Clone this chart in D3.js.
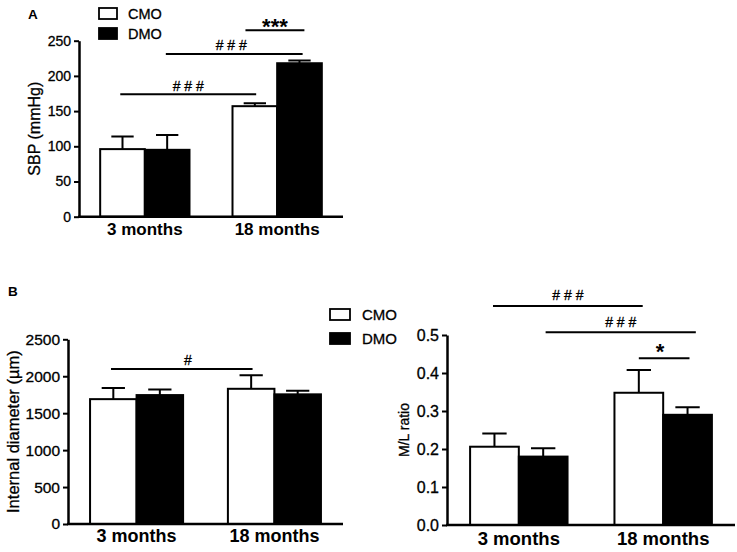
<!DOCTYPE html>
<html>
<head>
<meta charset="utf-8">
<script src="https://cdn.jsdelivr.net/npm/d3@7"></script>
<style>
  body { margin: 0; background: #fff; }
  svg { display: block; }
</style>
</head>
<body>
<div id="chart-area"></div>
<script>
const WIDTH = 737
const HEIGHT = 552
const FONT = '"Liberation Sans", Arial, Helvetica, sans-serif'

// data (mean, upper error)
const groups = ["3 months", "18 months"]
const series = ["CMO", "DMO"]

const sbpCMO = [96, 157]
const sbpCMOerr = [18, 4]
const sbpDMO = [95, 218]
const sbpDMOerr = [21, 4]

const diamCMO = [1690, 1830]
const diamCMOerr = [150, 183]
const diamDMO = [1745, 1755]
const diamDMOerr = [77, 49]

const mlCMO = [0.206, 0.348]
const mlCMOerr = [0.035, 0.060]
const mlDMO = [0.180, 0.290]
const mlDMOerr = [0.022, 0.020]

const svg = d3.select("#chart-area").append("svg")
  .attr("width", WIDTH)
  .attr("height", HEIGHT)
  .style("font-family", FONT)

// thin outline so the type looks as heavy as in the scanned figure
const heavy = sel => sel.attr("stroke", "#000").attr("stroke-width", 0.3)

function drawPanel(p) {
  const g = svg.append("g")

  const x0 = d3.scaleBand()
    .domain(groups)
    .range([p.x0, p.x1])
    .paddingInner(0.325)
    .paddingOuter(0.16)
  const x1 = d3.scaleBand()
    .domain(series)
    .range([0, x0.bandwidth()])
  const y = d3.scaleLinear()
    .domain([0, p.max])
    .range([p.yBottom, p.yTop])

  const rows = []
  groups.forEach((grp, i) => {
    series.forEach((s, j) => {
      rows.push({grp: grp, s: s, mean: p.means[j][i], err: p.errs[j][i]})
    })
  })
  const bw = x1.bandwidth()
  const cx = d => x0(d.grp) + x1(d.s) + bw / 2

  // error bars (upper only)
  g.selectAll(".err").data(rows).enter().append("path")
    .attr("class", "err")
    .attr("d", d => `M${cx(d)},${y(d.mean)}V${y(d.mean + d.err)}M${cx(d) - bw * 0.25},${y(d.mean + d.err)}H${cx(d) + bw * 0.25}`)
    .attr("stroke", "#000")
    .attr("stroke-width", 2)
    .attr("fill", "none")

  g.selectAll(".bar").data(rows).enter().append("rect")
    .attr("class", "bar")
    .attr("x", d => x0(d.grp) + x1(d.s))
    .attr("y", d => y(d.mean))
    .attr("width", bw)
    .attr("height", d => y(0) - y(d.mean))
    .attr("fill", d => d.s == "CMO" ? "#fff" : "#000")
    .attr("stroke", "#000")
    .attr("stroke-width", 2)

  // y axis
  const yAxisCall = d3.axisLeft(y)
    .tickValues(d3.range(0, p.max + p.step / 2, p.step))
    .tickFormat(p.fmt)
    .tickSize(5)
    .tickSizeOuter(0)
    .tickPadding(3)
  const ya = g.append("g")
    .attr("transform", `translate(${p.x0},0)`)
    .call(yAxisCall)
  ya.select(".domain").attr("stroke-width", 2.5)
  ya.selectAll(".tick line").attr("stroke-width", 2)
  ya.selectAll("text")
    .attr("font-size", p.tickFont)
    .attr("font-family", FONT)
    .attr("fill", "#000")
    .call(heavy)
  ya.attr("font-family", null).attr("font-size", null)

  // x axis: plain baseline, bold category labels
  g.append("line")
    .attr("x1", p.x0 - 1)
    .attr("x2", p.x1)
    .attr("y1", y(0))
    .attr("y2", y(0))
    .attr("stroke", "#000")
    .attr("stroke-width", 2.5)

  g.selectAll(".xlab").data(groups).enter().append("text")
    .attr("class", "xlab")
    .attr("x", d => x0(d) + x0.bandwidth() / 2)
    .attr("y", p.xLabY)
    .attr("text-anchor", "middle")
    .attr("font-size", p.xFont)
    .attr("font-weight", "bold")
    .text(d => d)

  // y label
  g.append("text")
    .attr("transform", `translate(${p.yLabX},${(p.yTop + p.yBottom) / 2}) rotate(-90)`)
    .attr("text-anchor", "middle")
    .attr("font-size", p.yLabFont)
    .call(heavy)
    .text(p.yLabel)

  // significance lines
  const ax = a => x0(a[0]) + x1(a[1]) + bw * a[2]
  p.sig.forEach(sg => {
    const ly = y(sg.y)
    const xa = ax(sg.from), xb = ax(sg.to)
    g.append("line")
      .attr("x1", xa).attr("x2", xb)
      .attr("y1", ly).attr("y2", ly)
      .attr("stroke", "#000")
      .attr("stroke-width", 2)
    const t = g.append("text")
      .attr("x", (xa + xb) / 2 + (sg.dx || 0))
      .attr("y", ly + sg.dy)
      .attr("text-anchor", "middle")
      .attr("font-size", sg.size)
      .attr("font-weight", sg.bold ? "bold" : "normal")
      .text(sg.label)
    if (!sg.bold) t.call(heavy)
  })

  // legend
  if (p.legend) {
    series.forEach((s, j) => {
      const ly = p.legend.y + j * p.legend.gap
      g.append("rect")
        .attr("x", p.legend.x)
        .attr("y", ly)
        .attr("width", p.legend.w)
        .attr("height", 11)
        .attr("fill", s == "CMO" ? "#fff" : "#000")
        .attr("stroke", "#000")
        .attr("stroke-width", 1.8)
      g.append("text")
        .attr("x", p.legend.tx)
        .attr("y", ly + 5.5)
        .attr("dy", "0.35em")
        .attr("font-size", p.legend.font)
        .call(heavy)
        .text(s)
    })
  }

  // panel letter
  if (p.letter) {
    g.append("text")
      .attr("x", p.letter.x)
      .attr("y", p.letter.y)
      .attr("font-size", 13.5)
      .attr("font-weight", "bold")
      .text(p.letter.t)
  }
}

// Panel A: SBP
drawPanel({
  x0: 79, x1: 343, yTop: 40.7, yBottom: 216.7,
  max: 250, step: 50, fmt: d3.format("d"), tickFont: 14,
  means: [sbpCMO, sbpDMO], errs: [sbpCMOerr, sbpDMOerr],
  xLabY: 235, xFont: 17,
  yLabel: "SBP (mmHg)", yLabX: 40, yLabFont: 16,
  sig: [
    {from: ["3 months", "CMO", 0.45], to: ["18 months", "CMO", 0.53], y: 174, label: "# # #", dy: -3, size: 14},
    {from: ["3 months", "DMO", 0.47], to: ["18 months", "DMO", 0.57], y: 231, label: "# # #", dy: -4, size: 14, dx: -3},
    {from: ["18 months", "CMO", 0.29], to: ["18 months", "DMO", 0.61], y: 265, label: "***", dy: 4, size: 22, bold: true}
  ],
  legend: {x: 99, y: 8, gap: 20, w: 18, tx: 128, font: 14.5},
  letter: {x: 28, y: 19, t: "A"}
})

// Panel B left: internal diameter
drawPanel({
  x0: 68, x1: 343, yTop: 339.3, yBottom: 524,
  max: 2500, step: 500, fmt: d3.format("d"), tickFont: 15.5,
  means: [diamCMO, diamDMO], errs: [diamCMOerr, diamDMOerr],
  xLabY: 541.5, xFont: 18,
  yLabel: "Internal diameter (\u00b5m)", yLabX: 19, yLabFont: 16.5,
  sig: [
    {from: ["3 months", "CMO", 0.45], to: ["18 months", "CMO", 0.53], y: 2098, label: "#", dy: -4, size: 14, dx: 6}
  ],
  legend: {x: 330, y: 309, gap: 24, w: 20, tx: 362, font: 15},
  letter: {x: 8, y: 296, t: "B"}
})

// Panel B right: M/L ratio
drawPanel({
  x0: 447, x1: 735, yTop: 335, yBottom: 525,
  max: 0.5, step: 0.1, fmt: d3.format(".1f"), tickFont: 16,
  means: [mlCMO, mlDMO], errs: [mlCMOerr, mlDMOerr],
  xLabY: 545, xFont: 18.5,
  yLabel: "M/L ratio", yLabX: 409, yLabFont: 14,
  sig: [
    {from: ["3 months", "CMO", 0.47], to: ["18 months", "CMO", 0.58], y: 0.576, label: "# # #", dy: -6, size: 14},
    {from: ["3 months", "DMO", 0.55], to: ["18 months", "DMO", 0.67], y: 0.507, label: "# # #", dy: -5, size: 14},
    {from: ["18 months", "CMO", 0.5], to: ["18 months", "DMO", 0.54], y: 0.439, label: "*", dy: 1, size: 22, bold: true, dx: -4}
  ]
})
</script>
</body>
</html>
